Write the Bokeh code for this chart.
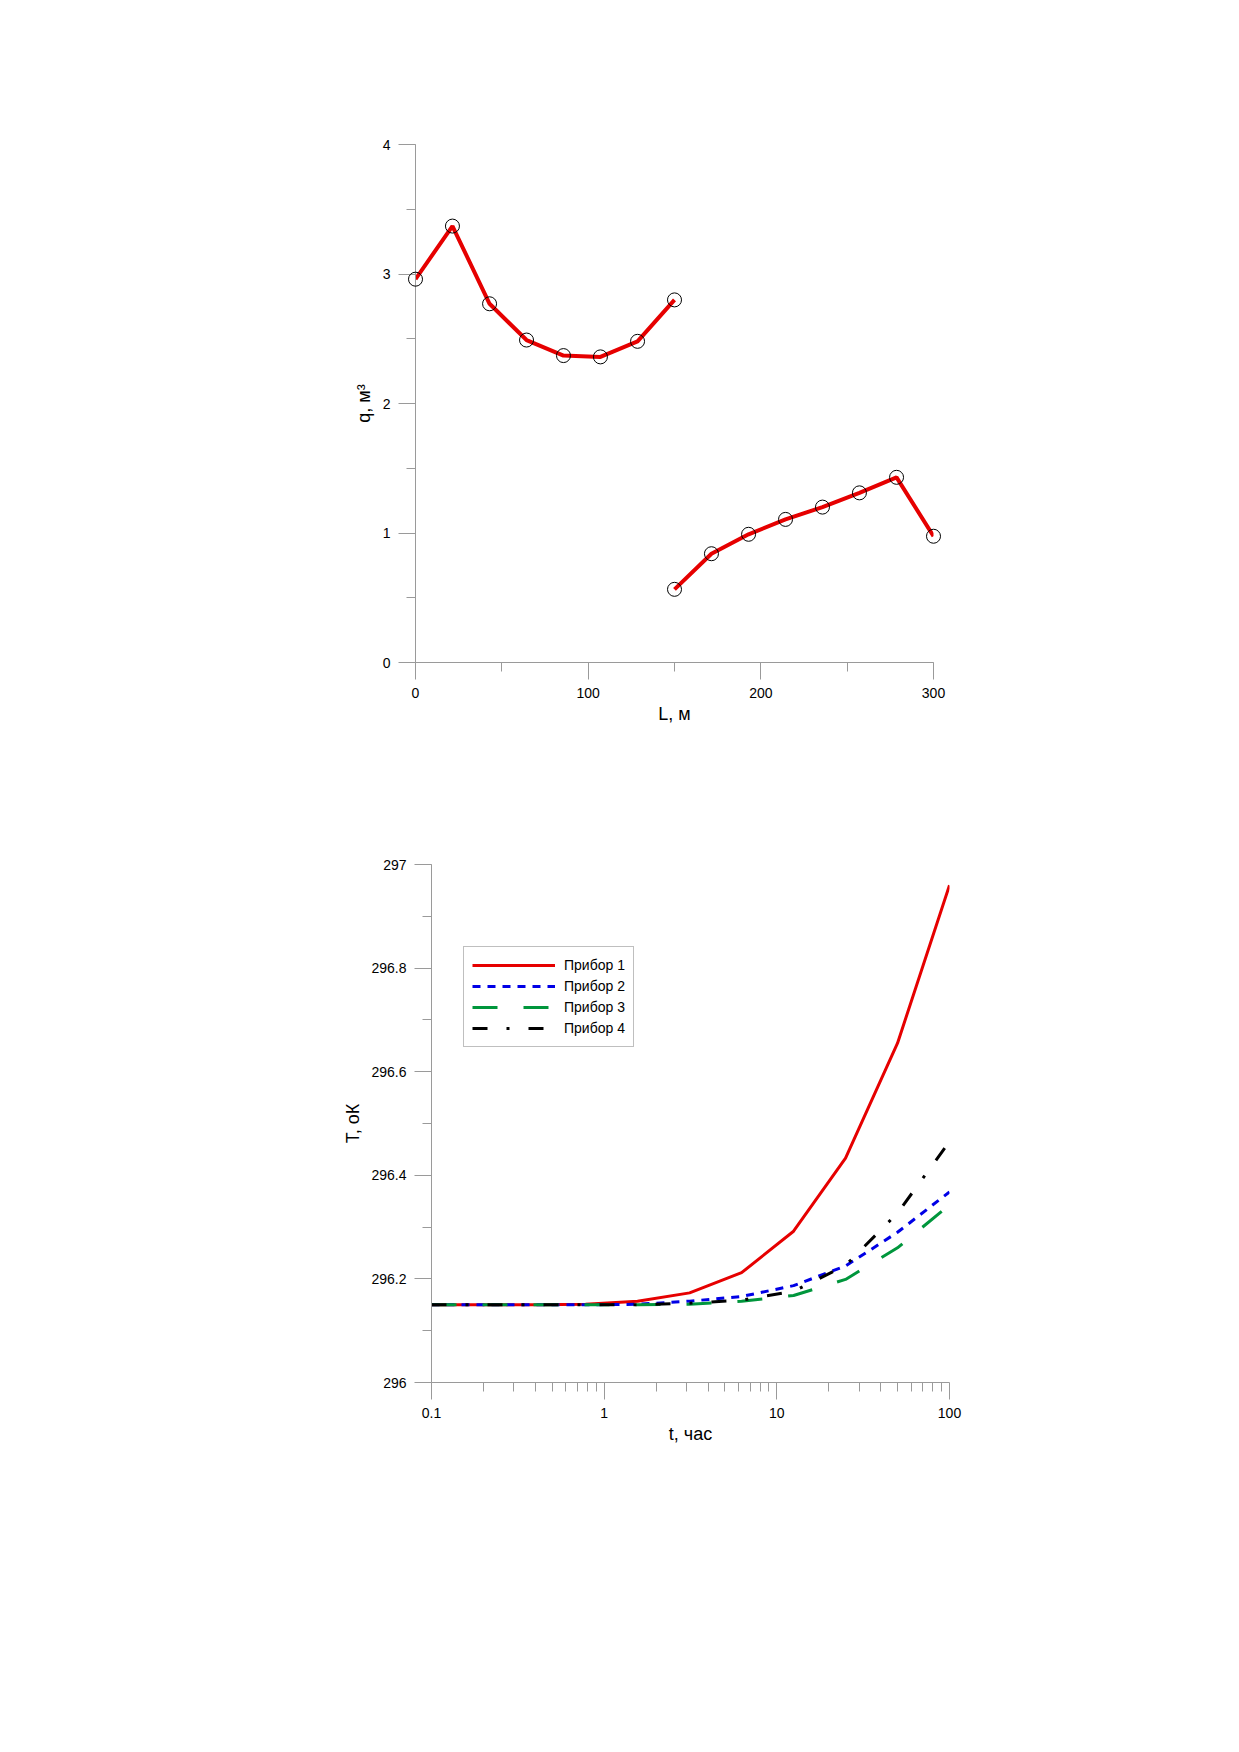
from bokeh.plotting import figure
from bokeh.models import (Range1d, SingleIntervalTicker, FixedTicker,
                          CustomJSTickFormatter, Legend, LegendItem)
from bokeh.embed import file_html
from bokeh.resources import INLINE

# ---- data: chart 1 (q vs L) ----
L_seg1 = [0, 21.4, 42.9, 64.3, 85.7, 107.1, 128.6, 150]
q_seg1 = [2.96, 3.37, 2.77, 2.49, 2.37, 2.36, 2.48, 2.80]
L_seg2 = [150, 171.4, 192.9, 214.3, 235.7, 257.1, 278.6, 300]
q_seg2 = [0.565, 0.84, 0.99, 1.105, 1.20, 1.31, 1.43, 0.975]

# ---- data: chart 2 (T vs t) ----
t_hours = [0.1, 0.195, 0.39, 0.78, 1.56, 3.125, 6.25, 12.5, 25, 50, 100]
T_dev1 = [296.15, 296.15, 296.15, 296.151, 296.157, 296.173, 296.212, 296.292, 296.433, 296.655, 296.960]
T_dev2 = [296.15, 296.15, 296.15, 296.15, 296.151, 296.157, 296.166, 296.187, 296.225, 296.290, 296.368]
T_dev3 = [296.15, 296.15, 296.15, 296.15, 296.15, 296.151, 296.157, 296.168, 296.199, 296.260, 296.343]
T_dev4 = [296.15, 296.15, 296.15, 296.15, 296.15, 296.153, 296.159, 296.176, 296.226, 296.327, 296.465]
series_names = ["Прибор 1", "Прибор 2", "Прибор 3", "Прибор 4"]

FONT = "Liberation Sans"
AXC = "#9a9a9a"


def style(p):
    p.outline_line_color = None
    p.xgrid.visible = False
    p.ygrid.visible = False
    p.background_fill_color = "white"
    p.border_fill_color = "white"
    for ax in (p.xaxis[0], p.yaxis[0]):
        ax.axis_line_color = AXC
        ax.axis_line_width = 1
        ax.major_tick_line_color = AXC
        ax.minor_tick_line_color = AXC
        ax.major_tick_out = 17
        ax.major_tick_in = 0
        ax.minor_tick_out = 9
        ax.minor_tick_in = 0
        ax.major_label_text_font = FONT
        ax.major_label_text_font_size = "14px"
        ax.major_label_text_color = "black"
        ax.major_label_standoff = 8
        ax.axis_label_text_font = FONT
        ax.axis_label_text_font_size = "18px"
        ax.axis_label_text_font_style = "normal"
        ax.axis_label_text_color = "black"


# ---------------- chart 1 ----------------
p1 = figure(frame_width=518, frame_height=518,
            x_range=Range1d(0, 300), y_range=Range1d(0, 4),
            output_backend="svg", toolbar_location=None,
            min_border_left=415, min_border_top=144,
            min_border_bottom=100, min_border_right=116)
style(p1)
p1.xaxis[0].ticker = SingleIntervalTicker(interval=100, num_minor_ticks=2)
p1.yaxis[0].ticker = SingleIntervalTicker(interval=1, num_minor_ticks=2)
p1.xaxis[0].axis_label = "L, м"
p1.yaxis[0].axis_label = "q, м³"
p1.xaxis[0].axis_label_standoff = 3
p1.yaxis[0].axis_label_standoff = 6

for xs, ys in ((L_seg1, q_seg1), (L_seg2, q_seg2)):
    p1.line(xs, ys, line_color="#e60000", line_width=4)
    p1.scatter(xs, ys, marker="circle", size=14, fill_color=None,
               line_color="black", line_width=1, level="overlay")

# ---------------- chart 2 ----------------
p2 = figure(frame_width=518, frame_height=518, x_axis_type="log",
            x_range=Range1d(0.1, 100), y_range=Range1d(296, 297),
            output_backend="svg", toolbar_location=None,
            min_border_left=431, min_border_top=102,
            min_border_bottom=100, min_border_right=100)
style(p2)
p2.xaxis[0].ticker = FixedTicker(
    ticks=[0.1, 1, 10, 100],
    minor_ticks=[0.2, 0.3, 0.4, 0.5, 0.6, 0.7, 0.8, 0.9,
                 2, 3, 4, 5, 6, 7, 8, 9,
                 20, 30, 40, 50, 60, 70, 80, 90])
p2.xaxis[0].formatter = CustomJSTickFormatter(code="return tick.toString();")
p2.yaxis[0].ticker = SingleIntervalTicker(interval=0.2, num_minor_ticks=2)
p2.yaxis[0].formatter = CustomJSTickFormatter(
    code="return Number(tick.toFixed(1)).toString();")
p2.xaxis[0].axis_label = "t, час"
p2.yaxis[0].axis_label = "T, оК"
p2.xaxis[0].axis_label_standoff = 3
p2.yaxis[0].axis_label_standoff = 5

styles = [
    dict(line_color="#e60000", line_width=3),
    dict(line_color="#0000e6", line_width=3, line_dash="8 7"),
    dict(line_color="#00963c", line_width=3, line_dash="25 26"),
    dict(line_color="black", line_width=3, line_dash="15 19 3 19"),
]
renderers = []
for ys, st in zip((T_dev1, T_dev2, T_dev3, T_dev4), styles):
    renderers.append(p2.line(t_hours, ys, **st))

legend = Legend(
    items=[LegendItem(label=n, renderers=[r]) for n, r in zip(series_names, renderers)],
    location=(32, 335), orientation="vertical",
    border_line_color="#808080", border_line_width=1,
    background_fill_color="white", background_fill_alpha=1,
    padding=8, spacing=1, margin=0,
    glyph_width=83, glyph_height=20, label_height=20, label_standoff=9,
    label_text_font=FONT, label_text_font_size="14px",
    label_text_color="black")
p2.add_layout(legend)

# two independent roots, stacked one under the other (no frame alignment)
open("out.html", "w").write(file_html([p1, p2], INLINE))
